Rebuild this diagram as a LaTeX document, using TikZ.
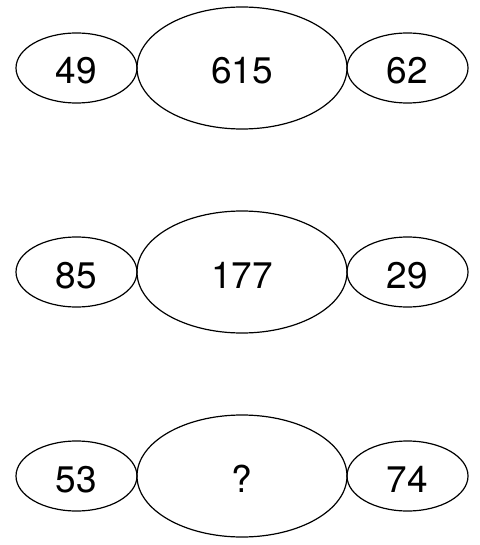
\documentclass[tikz,border=0pt]{standalone}
\usepackage{fontspec}
\setmainfont{TeX Gyre Heros}
\usepackage{tikz}
\usetikzlibrary{shapes.geometric}

\tikzset{
  egg/.style={ellipse, draw, line width=1.2pt, inner sep=0pt,
    text height=32pt, text depth=0pt, font=\fontsize{37}{40}\selectfont},
  smallegg/.style={egg, minimum width=121pt, minimum height=70pt},
  bigegg/.style={egg, minimum width=210pt, minimum height=122pt}
}

\begin{document}
\begin{tikzpicture}[x=1pt, y=-1pt]
\useasboundingbox (0,0) rectangle (479,545);
% first row
\node[bigegg] (mid1) at (242,68) {615};
\node[smallegg] (left1) at (76.5,68) {49};
\node[smallegg] (right1) at (407.5,68) {62};
% second row
\node[bigegg] (mid2) at (242,272) {177};
\node[smallegg] (left2) at (76.5,272) {85};
\node[smallegg] (right2) at (407.5,272) {29};
% third row
\node[bigegg] (mid3) at (242,476) {?};
\node[smallegg] (left3) at (76.5,476) {53};
\node[smallegg] (right3) at (407.5,476) {74};
\end{tikzpicture}
\end{document}
